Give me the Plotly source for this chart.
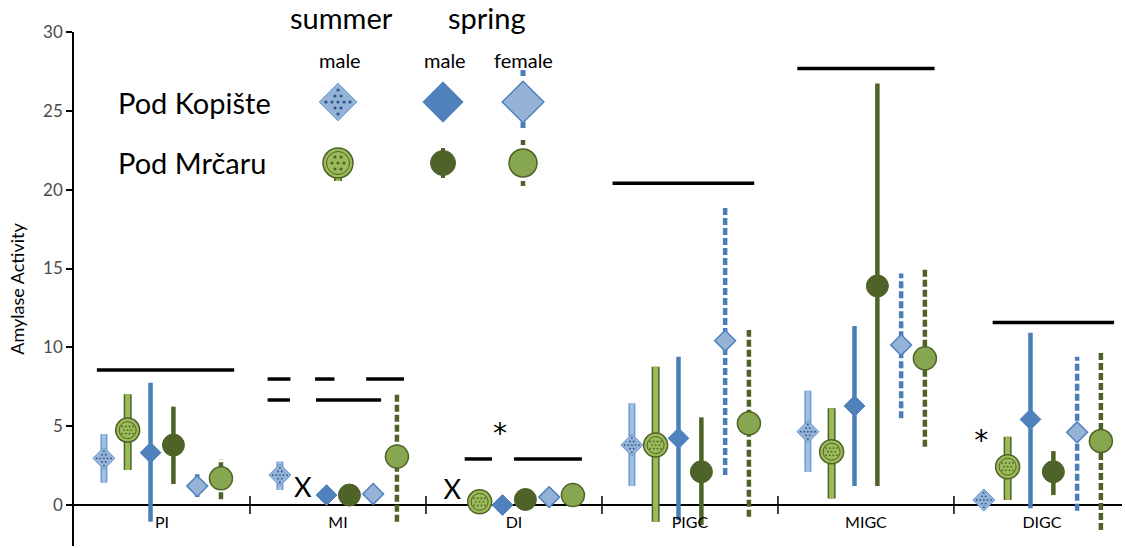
import plotly.graph_objects as go

# ---------------- data ----------------
categories = ["PI", "MI", "DI", "PIGC", "MIGC", "DIGC"]

summer_pk_mean = [2.96, 1.90, None, 3.80, 4.65, 0.32]
summer_pk_lo   = [1.42, 0.95, None, 1.20, 2.11, None]
summer_pk_hi   = [4.50, 2.75, None, 6.45, 7.25, None]

summer_pm_mean = [4.75, None, 0.20, 3.80, 3.38, 2.43]
summer_pm_lo   = [2.22, None, None, -1.06, 0.42, 0.32]
summer_pm_hi   = [7.02, None, None, 8.77, 6.13, 4.33]

spring_male_pk_mean = [3.32, 0.63, 0.00, 4.23, 6.28, 5.43]
spring_male_pk_lo   = [-1.06, None, None, -0.95, 1.20, -0.21]
spring_male_pk_hi   = [7.76, None, None, 9.40, 11.35, 10.93]

spring_male_pm_mean = [3.80, 0.63, 0.35, 2.11, 13.89, 2.11]
spring_male_pm_lo   = [1.33, None, None, -1.27, 1.20, 0.63]
spring_male_pm_hi   = [6.24, None, None, 5.56, 26.74, 3.42]

spring_female_pk_mean = [1.20, 0.70, 0.50, 10.42, 10.15, 4.61]
spring_female_pk_lo   = [0.50, None, None, 1.90, 5.50, -0.36]
spring_female_pk_hi   = [1.95, None, None, 19.02, 14.69, 9.41]

spring_female_pm_mean = [1.69, 3.07, 0.63, 5.18, 9.30, 4.06]
spring_female_pm_lo   = [0.36, -1.06, -0.10, -0.74, 3.70, -1.59]
spring_female_pm_hi   = [2.92, 7.19, 1.40, 11.10, 14.94, 9.72]

# significance bars: (level, x start, x end) in category units
sig_level = [8.56, 7.99, 7.99, 7.99, 6.66, 6.66, 2.92, 2.92, 20.40, 27.69, 11.58]
sig_start = [-0.37, 0.60, 0.87, 1.16, 0.60, 0.875, 1.72, 2.00, 2.56, 3.61, 4.72]
sig_end   = [0.41, 0.73, 0.98, 1.375, 0.727, 1.245, 1.875, 2.386, 3.365, 4.39, 5.41]

# text marks
x_mark_x = [0.80, 1.65]
x_mark_y = [0.95, 0.80]
star_x = [1.92, 4.655]
star_y = [4.35, 3.95]

y_ticks = [0, 5, 10, 15, 20, 25, 30]

# ---------------- layout constants ----------------
W, H = 1125, 548
L, R, T, B = 74, 3, 32, 2
Y_RANGE = [-2.6, 30]
X_RANGE = [-0.5, 5.455]
PX_X = (W - L - R) / (X_RANGE[1] - X_RANGE[0])
PX_Y = (H - T - B) / (Y_RANGE[1] - Y_RANGE[0])
FONT = "Lato"

offsets = [-0.33, -0.195, -0.065, 0.065, 0.20, 0.335]

C_BLUE = "#4F81BD"
C_LBLUE = "#95B3D7"
C_DGREEN = "#4F6228"
C_LIME = "#9BBB59"
C_OLIVE = "#86A64F"

series = [
    dict(mean=summer_pk_mean, lo=summer_pk_lo, hi=summer_pk_hi,
         bar=[("#6E9BD1", 7, "solid"), ("#A2C0E4", 4, "solid")],
         sym="diamond", size=17, fill=C_LBLUE, edge="#6E9BD1", ew=1, dots="#2E5590", kind="d"),
    dict(mean=summer_pm_mean, lo=summer_pm_lo, hi=summer_pm_hi,
         bar=[(C_DGREEN, 8, "solid"), (C_LIME, 5, "solid")],
         sym="circle", size=24, fill=C_LIME, edge=C_DGREEN, ew=1.5, dots=C_DGREEN, kind="c", ring=True),
    dict(mean=spring_male_pk_mean, lo=spring_male_pk_lo, hi=spring_male_pk_hi,
         bar=[("#4A7EBB", 4.5, "solid")],
         sym="diamond", size=16, fill=C_BLUE, edge=C_BLUE, ew=1, dots=None),
    dict(mean=spring_male_pm_mean, lo=spring_male_pm_lo, hi=spring_male_pm_hi,
         bar=[(C_DGREEN, 4.5, "solid")],
         sym="circle", size=22, fill=C_DGREEN, edge=C_DGREEN, ew=1, dots=None),
    dict(mean=spring_female_pk_mean, lo=spring_female_pk_lo, hi=spring_female_pk_hi,
         bar=[("#4A7EBB", 4.5, "7px,3px")],
         sym="diamond", size=16, fill=C_LBLUE, edge=C_BLUE, ew=1.5, dots=None),
    dict(mean=spring_female_pm_mean, lo=spring_female_pm_lo, hi=spring_female_pm_hi,
         bar=[(C_DGREEN, 4.5, "7px,3px")],
         sym="circle", size=23, fill=C_OLIVE, edge=C_DGREEN, ew=1.5, dots=None),
]


def dot_offsets(kind, size, spacing, margin):
    """pixel offsets of the dotted fill pattern inside a marker"""
    pts = []
    half = (size * 1.3 / 2) if kind == "d" else size / 2
    n = int(half // spacing) + 1
    for i in range(-n, n + 1):
        for j in range(-n, n + 1):
            dx, dy = i * spacing + (spacing / 2 if j % 2 else 0), j * spacing
            if kind == "d":
                ok = abs(dx) + abs(dy) <= half - margin
            else:
                ok = dx * dx + dy * dy <= (half - margin) ** 2
            if ok:
                pts.append((dx, dy))
    return pts


fig = go.Figure()

# significance lines
sx, sy = [], []
for lv, a, b in zip(sig_level, sig_start, sig_end):
    sx += [a, b, None]
    sy += [lv, lv, None]
fig.add_trace(go.Scatter(x=sx, y=sy, mode="lines", line=dict(color="black", width=3.5),
                         hoverinfo="skip", showlegend=False))

# error bars
for k, s in enumerate(series):
    bx, by = [], []
    for i in range(len(categories)):
        if s["lo"][i] is not None and s["hi"][i] is not None:
            bx += [i + offsets[k], i + offsets[k], None]
            by += [s["lo"][i], s["hi"][i], None]
    for col, wd, dash in s["bar"]:
        fig.add_trace(go.Scatter(x=bx, y=by, mode="lines",
                                 line=dict(color=col, width=wd, dash=dash),
                                 hoverinfo="skip", showlegend=False))

# markers
for k, s in enumerate(series):
    mx, my = [], []
    for i in range(len(categories)):
        if s["mean"][i] is not None:
            mx.append(i + offsets[k])
            my.append(s["mean"][i])
    fig.add_trace(go.Scatter(x=mx, y=my, mode="markers",
                             marker=dict(symbol=s["sym"], size=s["size"], color=s["fill"],
                                         line=dict(color=s["edge"], width=s["ew"])),
                             showlegend=False))
    if s.get("ring"):
        fig.add_trace(go.Scatter(x=mx, y=my, mode="markers",
                                 marker=dict(symbol="circle-open", size=s["size"] - 7,
                                             color=C_DGREEN, line=dict(width=1)),
                                 hoverinfo="skip", showlegend=False))
    if s["dots"]:
        dx_, dy_ = [], []
        for x0, y0 in zip(mx, my):
            for ox, oy in dot_offsets(s["kind"], s["size"], 3.6, 3.0 if s["kind"] == "d" else 5.0):
                dx_.append(x0 + ox / PX_X)
                dy_.append(y0 - oy / PX_Y)
        fig.add_trace(go.Scatter(x=dx_, y=dy_, mode="markers",
                                 marker=dict(symbol="circle", size=1.8, color=s["dots"]),
                                 hoverinfo="skip", showlegend=False))

# category boundary ticks on the zero line
fig.add_trace(go.Scatter(x=[i + 0.5 for i in range(len(categories) - 1)],
                         y=[0] * (len(categories) - 1), mode="markers",
                         marker=dict(symbol="line-ns", size=13, line=dict(color="black", width=1.5)),
                         hoverinfo="skip", showlegend=False))

# text marks (X, *)
fig.add_trace(go.Scatter(x=x_mark_x, y=x_mark_y, mode="text", text=["X"] * len(x_mark_x),
                         textfont=dict(family=FONT, size=27, color="black"),
                         hoverinfo="skip", showlegend=False))
fig.add_trace(go.Scatter(x=star_x, y=star_y, mode="text", text=["*"] * len(star_x),
                         textfont=dict(family="DejaVu Sans", size=28, color="black"),
                         hoverinfo="skip", showlegend=False))

# ---------------- custom legend (pixel coordinates on overlay axes) ----------------
col_x = [338, 443, 523]
row_y = [102, 163]
leg_sizes_top = [29, 31, 32]
leg_sizes_bot = [30, 25, 28]


def leg_bar(x, y0, y1, col, wd, dash="solid"):
    fig.add_trace(go.Scatter(x=[x, x], y=[y0, y1], xaxis="x2", yaxis="y2", mode="lines",
                             line=dict(color=col, width=wd, dash=dash),
                             hoverinfo="skip", showlegend=False))


leg_bar(col_x[2], 70, 134, "#4A7EBB", 5, "6px,46px")
leg_bar(col_x[0], row_y[1], row_y[1] + 18, C_DGREEN, 8)
leg_bar(col_x[0], row_y[1], row_y[1] + 18, C_LIME, 5)
leg_bar(col_x[1], row_y[1] - 15, row_y[1] + 15, C_DGREEN, 4)
leg_bar(col_x[2], 140, 186, C_DGREEN, 4.5, "5px,36px")

for k, s in enumerate(series):
    r = 0 if s["sym"] == "diamond" else 1
    c = [0, 0, 1, 1, 2, 2][k]
    sz = (leg_sizes_top if r == 0 else leg_sizes_bot)[c]
    fig.add_trace(go.Scatter(x=[col_x[c]], y=[row_y[r]], xaxis="x2", yaxis="y2", mode="markers",
                             marker=dict(symbol=s["sym"], size=sz, color=s["fill"],
                                         line=dict(color=s["edge"], width=s["ew"])),
                             hoverinfo="skip", showlegend=False))
    if s.get("ring"):
        fig.add_trace(go.Scatter(x=[col_x[c]], y=[row_y[r]], xaxis="x2", yaxis="y2", mode="markers",
                                 marker=dict(symbol="circle-open", size=sz - 7, color=C_DGREEN,
                                             line=dict(width=1)),
                                 hoverinfo="skip", showlegend=False))
    if s["dots"]:
        pts = dot_offsets(s["kind"], sz, 6, 5 if s["kind"] == "d" else 6)
        fig.add_trace(go.Scatter(x=[col_x[c] + p[0] for p in pts], y=[row_y[r] + p[1] for p in pts],
                                 xaxis="x2", yaxis="y2", mode="markers",
                                 marker=dict(symbol="circle", size=3.2, color=s["dots"]),
                                 hoverinfo="skip", showlegend=False))


def px_to_paper(xp, yp):
    return (xp - L) / (W - L - R), (H - B - yp) / (H - T - B)


annotations = []


def ann(text, xp, yp, size, anchor="center"):
    xx, yy = px_to_paper(xp, yp)
    annotations.append(dict(text=text, x=xx, y=yy, xref="paper", yref="paper", showarrow=False,
                            font=dict(family=FONT, size=size, color="black"),
                            xanchor=anchor, yanchor="middle"))


ann("summer", 341, 17, 29)
ann("spring", 487, 17, 29)
ann("male", 340, 60, 20)
ann("male", 445, 60, 20)
ann("female", 523, 60, 20)
ann("Pod Kopište", 116, 103, 29, "left")
ann("Pod Mrčaru", 116, 162, 29, "left")

x_pos = (0 - Y_RANGE[0]) / (Y_RANGE[1] - Y_RANGE[0])

fig.update_layout(
    width=W, height=H,
    margin=dict(l=L, r=R, t=T, b=B, autoexpand=False),
    paper_bgcolor="white", plot_bgcolor="white",
    font=dict(family=FONT, color="black"),
    annotations=annotations,
    xaxis=dict(range=X_RANGE, tickmode="array", tickvals=list(range(len(categories))),
               ticktext=categories, ticks="outside", ticklen=3, tickcolor="rgba(0,0,0,0)",
               tickfont=dict(family=FONT, size=16, color="black"),
               showgrid=False, zeroline=False, showline=False, automargin=False,
               anchor="free", position=x_pos),
    yaxis=dict(range=Y_RANGE, tickmode="array", tickvals=y_ticks, ticks="outside", ticklen=6,
               tickwidth=1.5, tickcolor="black", automargin=False,
               tickfont=dict(family=FONT, size=17, color="#4a4a4a"),
               showline=True, linecolor="black", linewidth=1.5,
               showgrid=False, zeroline=True, zerolinecolor="black", zerolinewidth=1.5,
               title=dict(text="Amylase Activity", font=dict(family=FONT, size=18, color="black"),
                          standoff=14)),
    xaxis2=dict(overlaying="x", range=[L, W - R], visible=False),
    yaxis2=dict(overlaying="y", range=[H - B, T], visible=False),
)

fig.write_html("out.html", config={"displayModeBar": False},
               post_script="document.body.style.margin='0';document.body.style.overflow='hidden';")
